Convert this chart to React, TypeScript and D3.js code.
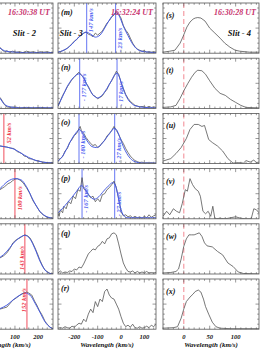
import React from "react";
import * as d3 from "d3";

type Pt = [number, number];

// ---------- DATA ----------
const leftDomain: [number, number] = [-160, 265];
const midDomain: [number, number] = [-270, 150];
const rightDomain: [number, number] = [-40, 145];

const leftTicks = [100, 200];
const midTicks = [-200, -100, 0, 100];
const rightTicks = [0, 50, 100];

const midPanelLabels = ["(m)", "(n)", "(o)", "(p)", "(q)", "(r)"];
const rightPanelLabels = ["(s)", "(t)", "(u)", "(v)", "(w)", "(x)"];

const timeLabels = ["16:30:38 UT", "16:32:24 UT", "16:30:28 UT"];
const slitLabels = ["Slit - 2", "Slit - 3", "Slit - 4"];
const axisTitle = "Wavelength (km/s)";

// left column (Slit 2)
const L1gray: Pt[] = [[-160,0.3],[-100,0.6],[-50,0.4],[0,0.2],[20,0.14],[35,0.12],[45,0.06],[55,0.03],[65,0.05],[75,0.02],[90,0.04],[105,0.02],[120,0.03],[135,0.01],[150,0.04],[165,0.02],[180,0.03],[195,0.01],[210,0.03],[225,0.02],[240,0.03],[255,0.01],[265,0.02]];
const L1blue: Pt[] = [[-160,0.3],[-100,0.58],[-50,0.42],[0,0.2],[35,0.1],[60,0.04],[100,0.02],[150,0.01],[265,0.01]];
const L2gray: Pt[] = [[-160,0.4],[-100,0.7],[-50,0.6],[0,0.38],[20,0.28],[35,0.22],[45,0.15],[55,0.07],[65,0.03],[80,0.02],[100,0.03],[120,0.01],[150,0.02],[180,0.01],[210,0.02],[240,0.01],[265,0.01]];
const L2blue: Pt[] = [[-160,0.4],[-100,0.68],[-50,0.6],[0,0.38],[35,0.2],[55,0.08],[80,0.03],[120,0.01],[265,0.01]];
const L3gray: Pt[] = [[-160,0.1],[-100,0.28],[-50,0.37],[0,0.37],[35,0.35],[50,0.34],[65,0.33],[80,0.31],[95,0.3],[110,0.24],[120,0.22],[130,0.2],[140,0.15],[150,0.14],[160,0.1],[175,0.09],[190,0.06],[205,0.05],[220,0.03],[240,0.02],[265,0.02]];
const L3blue: Pt[] = [[-160,0.1],[-100,0.28],[-50,0.36],[0,0.37],[50,0.34],[100,0.28],[140,0.17],[180,0.08],[220,0.03],[265,0.01]];
const L4gray: Pt[] = [[-160,0.05],[-100,0.15],[-50,0.3],[0,0.45],[35,0.58],[55,0.64],[70,0.7],[80,0.72],[90,0.76],[100,0.79],[110,0.8],[122,0.77],[135,0.72],[150,0.62],[165,0.5],[178,0.36],[195,0.24],[208,0.14],[222,0.08],[239,0.03],[265,0.01]];
const L4blue: Pt[] = [[-160,0.05],[-100,0.15],[-50,0.3],[0,0.46],[35,0.6],[70,0.75],[100,0.8],[125,0.78],[150,0.64],[178,0.38],[208,0.15],[239,0.04],[265,0.01]];
const L5gray: Pt[] = [[-160,0.02],[-100,0.08],[-50,0.15],[0,0.25],[35,0.32],[50,0.36],[65,0.42],[80,0.52],[91,0.62],[105,0.68],[122,0.72],[135,0.76],[143,0.78],[155,0.76],[165,0.72],[175,0.64],[187,0.52],[198,0.4],[208,0.28],[220,0.16],[230,0.08],[252,0.01],[265,0]];
const L5blue: Pt[] = [[-160,0.02],[-100,0.08],[-50,0.15],[0,0.26],[35,0.33],[65,0.45],[91,0.6],[122,0.73],[143,0.77],[165,0.7],[187,0.5],[208,0.26],[230,0.08],[252,0.01],[265,0]];
const L6gray: Pt[] = [[-160,0.02],[-100,0.1],[-50,0.2],[0,0.32],[35,0.4],[50,0.42],[65,0.44],[80,0.52],[91,0.58],[105,0.62],[122,0.68],[137,0.72],[152,0.74],[160,0.72],[173,0.68],[185,0.56],[195,0.48],[205,0.38],[218,0.28],[230,0.16],[240,0.1],[252,0.04],[265,0.01]];
const L6blue: Pt[] = [[-160,0.02],[-100,0.1],[-50,0.2],[0,0.33],[35,0.41],[65,0.48],[91,0.58],[122,0.68],[143,0.72],[165,0.68],[187,0.52],[208,0.34],[230,0.15],[252,0.04],[265,0.01]];

const leftRedVel = [null, null, 52, 100, 143, 152];
const leftRedText = ["", "", "52 km/s", "100 km/s", "143 km/s", "152 km/s"];

// middle column (Slit 3)
const M1gray: Pt[] = [[-270,0.02],[-260,0.03],[-250,0.05],[-240,0.07],[-230,0.1],[-220,0.14],[-210,0.19],[-200,0.24],[-190,0.27],[-180,0.33],[-170,0.36],[-160,0.4],[-150,0.42],[-140,0.38],[-130,0.36],[-120,0.33],[-110,0.4],[-100,0.36],[-90,0.4],[-80,0.44],[-70,0.52],[-60,0.6],[-50,0.65],[-40,0.72],[-30,0.76],[-20,0.82],[-10,0.78],[0,0.7],[10,0.55],[20,0.46],[30,0.4],[40,0.3],[50,0.2],[60,0.13],[70,0.08],[80,0.06],[90,0.04],[100,0.05],[110,0.02],[120,0.03],[130,0.02],[140,0.03],[150,0.02]];
const M1blue: Pt[] = [[-270,0.02],[-250,0.05],[-230,0.1],[-210,0.18],[-190,0.28],[-170,0.36],[-150,0.42],[-130,0.38],[-110,0.32],[-90,0.36],[-70,0.5],[-50,0.66],[-30,0.78],[-20,0.8],[-10,0.76],[0,0.66],[10,0.54],[20,0.44],[30,0.35],[40,0.26],[60,0.12],[80,0.05],[100,0.03],[120,0.02],[150,0.01]];
const M2gray: Pt[] = [[-270,0.04],[-260,0.15],[-250,0.26],[-240,0.34],[-230,0.43],[-220,0.5],[-210,0.58],[-200,0.62],[-190,0.68],[-180,0.72],[-170,0.66],[-160,0.62],[-150,0.5],[-140,0.44],[-130,0.34],[-120,0.26],[-110,0.24],[-100,0.19],[-90,0.22],[-80,0.25],[-70,0.32],[-60,0.38],[-50,0.48],[-40,0.55],[-30,0.64],[-20,0.74],[-10,0.68],[0,0.52],[10,0.4],[20,0.28],[30,0.2],[40,0.14],[50,0.1],[60,0.06],[70,0.05],[80,0.03],[90,0.04],[100,0.03],[110,0.02],[120,0.04],[130,0.02],[140,0.03],[150,0.02]];
const M2blue: Pt[] = [[-270,0.05],[-250,0.24],[-230,0.44],[-210,0.58],[-190,0.67],[-177,0.69],[-160,0.6],[-140,0.42],[-120,0.27],[-100,0.21],[-80,0.27],[-60,0.4],[-40,0.56],[-25,0.68],[-17,0.7],[-5,0.6],[5,0.45],[15,0.32],[30,0.18],[50,0.08],[70,0.04],[100,0.02],[150,0.01]];
const M3gray: Pt[] = [[-270,0.04],[-260,0.1],[-250,0.14],[-240,0.25],[-230,0.3],[-220,0.42],[-210,0.48],[-200,0.56],[-190,0.6],[-180,0.7],[-175,0.74],[-170,0.66],[-160,0.6],[-150,0.52],[-140,0.46],[-130,0.4],[-120,0.36],[-110,0.38],[-100,0.32],[-90,0.35],[-80,0.42],[-70,0.46],[-60,0.55],[-50,0.6],[-40,0.66],[-30,0.74],[-20,0.66],[-10,0.58],[0,0.48],[10,0.4],[20,0.3],[30,0.22],[40,0.15],[50,0.1],[60,0.06],[70,0.04],[80,0.02],[90,0.03],[100,0.01],[110,0.02],[120,0.01],[130,0.02],[140,0.01],[150,0.01]];
const M3blue: Pt[] = [[-270,0.05],[-250,0.15],[-230,0.32],[-210,0.5],[-190,0.63],[-178,0.68],[-165,0.6],[-145,0.45],[-125,0.34],[-105,0.32],[-85,0.38],[-65,0.5],[-45,0.62],[-30,0.7],[-20,0.68],[-5,0.52],[10,0.34],[25,0.2],[45,0.08],[65,0.03],[90,0.01],[150,0.01]];
const M4gray: Pt[] = [[-270,0.1],[-265,0.05],[-260,0.18],[-250,0.12],[-245,0.25],[-235,0.2],[-225,0.35],[-215,0.3],[-205,0.45],[-195,0.4],[-185,0.58],[-175,0.55],[-167,0.82],[-160,0.6],[-150,0.55],[-140,0.48],[-130,0.42],[-120,0.45],[-110,0.34],[-100,0.4],[-90,0.34],[-80,0.48],[-70,0.5],[-60,0.58],[-50,0.62],[-40,0.68],[-30,0.75],[-20,0.62],[-10,0.4],[0,0.14],[10,0.06],[20,0.08],[30,0.04],[40,0.06],[50,0.02],[60,0.05],[70,0.02],[80,0.04],[90,0.01],[100,0.05],[110,0.02],[120,0.08],[130,0.03],[140,0.06],[150,0.08]];
const M4blue: Pt[] = [[-270,0.12],[-250,0.21],[-230,0.32],[-210,0.43],[-190,0.55],[-170,0.66],[-155,0.6],[-135,0.46],[-115,0.39],[-95,0.44],[-75,0.55],[-55,0.65],[-35,0.72],[-25,0.68],[-15,0.5],[-5,0.28],[5,0.12],[15,0.05],[30,0.02],[60,0.02],[100,0.02],[150,0.02]];
const M5gray: Pt[] = [[-270,0.02],[-260,0.06],[-250,0.02],[-240,0.04],[-230,0.03],[-220,0.06],[-210,0.05],[-200,0.1],[-190,0.08],[-180,0.14],[-170,0.12],[-160,0.2],[-150,0.3],[-140,0.4],[-130,0.45],[-120,0.5],[-110,0.48],[-100,0.55],[-90,0.58],[-80,0.65],[-70,0.6],[-60,0.7],[-50,0.72],[-40,0.8],[-30,0.82],[-20,0.78],[-10,0.6],[0,0.4],[10,0.22],[20,0.12],[30,0.05],[40,0.04],[50,0.06],[60,0.02],[70,0.05],[80,0.02],[90,0.04],[100,0.02],[110,0.05],[120,0.02],[130,0.03],[140,0.02],[150,0.03]];
const M6gray: Pt[] = [[-270,0.02],[-260,0.03],[-250,0.02],[-240,0.05],[-230,0.03],[-220,0.02],[-210,0.06],[-200,0.04],[-190,0.08],[-180,0.12],[-170,0.1],[-160,0.2],[-150,0.15],[-140,0.3],[-130,0.4],[-120,0.33],[-110,0.55],[-100,0.45],[-90,0.6],[-80,0.55],[-70,0.75],[-60,0.8],[-50,0.68],[-40,0.62],[-30,0.6],[-20,0.5],[-10,0.4],[0,0.25],[10,0.12],[20,0.05],[30,0.08],[40,0.04],[50,0.1],[60,0.03],[70,0.02],[80,0.05],[90,0.02],[100,0.03],[110,0.06],[120,0.03],[130,0.08],[140,0.05],[150,0.1]];

const midFitVel = [[-147, -23], [-177, -17], [-180, -27], [-167, -27]];
const midFitText = [["- 147 km/s", "- 23 km/s"], ["- 177 km/s", "- 17 km/s"], ["- 180 km/s", "- 27 km/s"], ["- 167 km/s", "- 27 km/s"]];

// right column (Slit 4)
const R1gray: Pt[] = [[-40,0.02],[-27,0.04],[-17,0.06],[-7,0.2],[-1,0.34],[6,0.52],[12,0.62],[18,0.68],[22,0.7],[27,0.71],[33,0.7],[41,0.64],[50,0.5],[60,0.4],[70,0.3],[79,0.2],[89,0.12],[99,0.06],[108,0.04],[127,0.02],[145,0.02]];
const R2gray: Pt[] = [[-40,0.02],[-25,0.03],[-15,0.06],[-7,0.2],[0,0.35],[8,0.5],[15,0.62],[22,0.72],[27,0.76],[35,0.75],[42,0.68],[50,0.55],[60,0.4],[70,0.3],[80,0.26],[90,0.18],[100,0.12],[110,0.06],[120,0.02],[145,0.01]];
const R3gray: Pt[] = [[-40,0.05],[-25,0.1],[-15,0.2],[-5,0.32],[5,0.5],[12,0.68],[20,0.78],[28,0.78],[35,0.74],[40,0.76],[48,0.48],[55,0.42],[65,0.35],[75,0.25],[85,0.1],[95,0.01],[105,0.02],[115,0.01],[120,0.06],[128,0.03],[135,0.07],[140,0.02],[145,0.03]];
const R4gray: Pt[] = [[-40,0.05],[-33,0.15],[-27,0.08],[-20,0.2],[-14,0.15],[-8,0.12],[-3,0.3],[3,0.58],[7,0.55],[12,0.8],[17,0.68],[22,0.6],[28,0.55],[32,0.45],[37,0.15],[42,0.1],[47,0.15],[52,0.05],[56,0.25],[60,0],[70,0.01],[80,0],[90,0.02],[100,0.04],[110,0.01],[120,0],[130,0],[135,0.2],[140,0.18],[145,0.12]];
const R5gray: Pt[] = [[-40,0.02],[-25,0.03],[-15,0.05],[-10,0.1],[-5,0.3],[0,0.55],[5,0.7],[10,0.78],[15,0.78],[20,0.78],[25,0.8],[30,0.82],[35,0.75],[40,0.62],[45,0.56],[55,0.54],[65,0.45],[75,0.38],[85,0.22],[95,0.15],[105,0.04],[115,0.01],[145,0]];
const R6gray: Pt[] = [[-40,0.02],[-20,0.03],[-12,0.05],[-5,0.22],[0,0.4],[5,0.55],[12,0.64],[18,0.7],[22,0.75],[28,0.78],[33,0.74],[38,0.6],[42,0.45],[48,0.3],[55,0.14],[62,0.05],[70,0.02],[90,0.01],[145,0.01]];

const leftGray = [L1gray, L2gray, L3gray, L4gray, L5gray, L6gray];
const leftBlue = [L1blue, L2blue, L3blue, L4blue, L5blue, L6blue];
const midGray = [M1gray, M2gray, M3gray, M4gray, M5gray, M6gray];
const midBlue: (Pt[] | null)[] = [M1blue, M2blue, M3blue, M4blue, null, null];
const rightGray = [R1gray, R2gray, R3gray, R4gray, R5gray, R6gray];

// ---------- LAYOUT ----------
const W = 272, H = 352;
const ROW_TOP0 = 3, ROW_STEP = 55.2, ROW_H = 50.2;
const COLS = [
  { x0: -45, x1: 53, domain: leftDomain, ticks: leftTicks, minor: 20 },
  { x0: 58, x1: 156, domain: midDomain, ticks: midTicks, minor: 20 },
  { x0: 163, x1: 259, domain: rightDomain, ticks: rightTicks, minor: 10 },
];
const FONT = "'Liberation Serif', 'DejaVu Serif', serif";
const GRAY = "#555";
const BLUE = "#4257e2";
const BLUE_LINE = "#5466f2";
const RED = "#ee3a4a";
const PINK = "#f5a3ab";
const TIME_COL = "#c8336e";
const FRAME = "#555";

const midLabelStart = [[0.66, 0.98], [0.86, 0.95], [0.9, 0.98], [0.88, 0.95]];
const leftLabelStart = [0, 0, 0.6, 0.83, 0.92, 0.66];
const leftLabelSide = [0, 0, 1, 1, -1, -1];

function Frame({ x0, x1, y0, y1, xs, minor, major }: any) {
  const els: React.ReactNode[] = [];
  const [d0, d1] = xs.domain();
  const start = Math.ceil(d0 / minor) * minor;
  for (let v = start; v <= d1; v += minor) {
    const isMajor = Math.abs(v % major) < 1e-6;
    const len = isMajor ? 3.5 : 1.8;
    const x = xs(v);
    els.push(<line key={"b" + v} x1={x} x2={x} y1={y1} y2={y1 - len} stroke={FRAME} strokeWidth={0.6} />);
    els.push(<line key={"t" + v} x1={x} x2={x} y1={y0} y2={y0 + len} stroke={FRAME} strokeWidth={0.6} />);
  }
  for (let i = 1; i < 10; i++) {
    const y = y1 - (i / 10) * (y1 - y0);
    const len = i % 5 === 0 ? 3.5 : 1.8;
    els.push(<line key={"l" + i} x1={x0} x2={x0 + len} y1={y} y2={y} stroke={FRAME} strokeWidth={0.6} />);
    els.push(<line key={"r" + i} x1={x1} x2={x1 - len} y1={y} y2={y} stroke={FRAME} strokeWidth={0.6} />);
  }
  return (
    <g>
      <rect x={x0} y={y0} width={x1 - x0} height={y1 - y0} fill="none" stroke={FRAME} strokeWidth={0.8} />
      {els}
    </g>
  );
}

export default function App() {
  const panels: React.ReactNode[] = [];
  COLS.forEach((col, c) => {
    const xs = d3.scaleLinear().domain(col.domain).range([col.x0, col.x1]);
    const major = c === 2 ? 50 : 100;
    for (let r = 0; r < 6; r++) {
      const y0 = ROW_TOP0 + r * ROW_STEP;
      const y1 = y0 + ROW_H;
      const ys = d3.scaleLinear().domain([0, 1]).range([y1, y0]);
      const line = d3.line<Pt>().x((d) => xs(d[0])).y((d) => ys(d[1]));
      const smooth = d3.line<Pt>().x((d) => xs(d[0])).y((d) => ys(d[1])).curve(d3.curveMonotoneX);
      const clipId = `clip-${c}-${r}`;
      const gray = c === 0 ? leftGray[r] : c === 1 ? midGray[r] : rightGray[r];
      const blue = c === 0 ? leftBlue[r] : c === 1 ? midBlue[r] : null;
      const items: React.ReactNode[] = [];

      if (c === 2) {
        items.push(<line key="pink" x1={xs(0)} x2={xs(0)} y1={y0} y2={y1} stroke={PINK} strokeWidth={1.3} strokeDasharray="5,3" />);
      }
      if (c === 0 && leftRedVel[r] !== null) {
        const xv = xs(leftRedVel[r] as number);
        items.push(<line key="red" x1={xv} x2={xv} y1={y0} y2={y1} stroke={RED} strokeWidth={0.9} />);
      }
      if (c === 1 && r < 4) {
        midFitVel[r].forEach((v, k) => {
          const xv = xs(v);
          items.push(<line key={"bl" + k} x1={xv} x2={xv} y1={y0} y2={y1} stroke={BLUE_LINE} strokeWidth={0.9} />);
        });
      }
      items.push(<path key="g" d={line(gray) || ""} fill="none" stroke={GRAY} strokeWidth={0.8} />);
      if (blue) items.push(<path key="bf" d={smooth(blue) || ""} fill="none" stroke={BLUE} strokeWidth={0.95} />);

      panels.push(
        <g key={`p-${c}-${r}`}>
          <defs>
            <clipPath id={clipId}>
              <rect x={col.x0} y={y0} width={col.x1 - col.x0} height={y1 - y0} />
            </clipPath>
          </defs>
          <g clipPath={`url(#${clipId})`}>{items}</g>
          <Frame x0={col.x0} x1={col.x1} y0={y0} y1={y1} xs={xs} minor={col.minor} major={major} />
          {c === 1 && r < 4 &&
            midFitVel[r].map((v, k) => {
              const bx = xs(v) + 6.2;
              const by = y0 + midLabelStart[r][k] * ROW_H;
              return (
                <text key={"ml" + k} transform={`translate(${bx},${by}) rotate(-90)`} fontFamily={FONT} fontSize={6.5} fontStyle="italic" fontWeight="bold" fill={BLUE_LINE}>
                  {midFitText[r][k]}
                </text>
              );
            })}
          {c === 0 && leftRedVel[r] !== null && (() => {
            const xv = xs(leftRedVel[r] as number);
            const bx = leftLabelSide[r] > 0 ? xv + 6.8 : xv - 0.8;
            const by = y0 + leftLabelStart[r] * ROW_H;
            return (
              <text transform={`translate(${bx},${by}) rotate(-90)`} fontFamily={FONT} fontSize={6.5} fontStyle="italic" fontWeight="bold" fill={RED}>
                {leftRedText[r]}
              </text>
            );
          })()}
          {c === 1 && (
            <text x={col.x0 + 3} y={y0 + 12} fontFamily={FONT} fontSize={8} fontStyle="italic" fontWeight="bold" fill="#111">
              {midPanelLabels[r]}
            </text>
          )}
          {c === 2 && (
            <text x={col.x0 + 3} y={y0 + 15} fontFamily={FONT} fontSize={8} fontStyle="italic" fontWeight="bold" fill="#111">
              {rightPanelLabels[r]}
            </text>
          )}
          {r === 5 &&
            col.ticks.map((t) => (
              <text key={"tk" + t} x={xs(t)} y={339} textAnchor="middle" fontFamily={FONT} fontSize={6.5} fontStyle="italic" fontWeight="bold" fill="#111">
                {t}
              </text>
            ))}
        </g>
      );
    }
    panels.push(
      <text key={"title" + c} x={(col.x0 + col.x1) / 2} y={346.5} textAnchor="middle" fontFamily={FONT} fontSize={7} fontStyle="italic" fontWeight="bold" fill="#111">
        {axisTitle}
      </text>
    );
  });

  return (
    <svg width={W} height={H} style={{ position: "absolute", left: 0, top: 0, background: "#fff" }}>
      <rect x={0} y={0} width={W} height={H} fill="#fff" />
      {panels}
      <text x={50} y={15} textAnchor="end" fontFamily={FONT} fontSize={8} fontStyle="italic" fontWeight="bold" fill={TIME_COL}>{timeLabels[0]}</text>
      <text x={153} y={15} textAnchor="end" fontFamily={FONT} fontSize={8} fontStyle="italic" fontWeight="bold" fill={TIME_COL}>{timeLabels[1]}</text>
      <text x={256} y={15} textAnchor="end" fontFamily={FONT} fontSize={8} fontStyle="italic" fontWeight="bold" fill={TIME_COL}>{timeLabels[2]}</text>
      <text x={36} y={36} textAnchor="end" fontFamily={FONT} fontSize={8.5} fontStyle="italic" fontWeight="bold" fill="#111">{slitLabels[0]}</text>
      <text x={59.5} y={36} fontFamily={FONT} fontSize={8.5} fontStyle="italic" fontWeight="bold" fill="#111">{slitLabels[1]}</text>
      <text x={251} y={36} textAnchor="end" fontFamily={FONT} fontSize={8.5} fontStyle="italic" fontWeight="bold" fill="#111">{slitLabels[2]}</text>
    </svg>
  );
}
